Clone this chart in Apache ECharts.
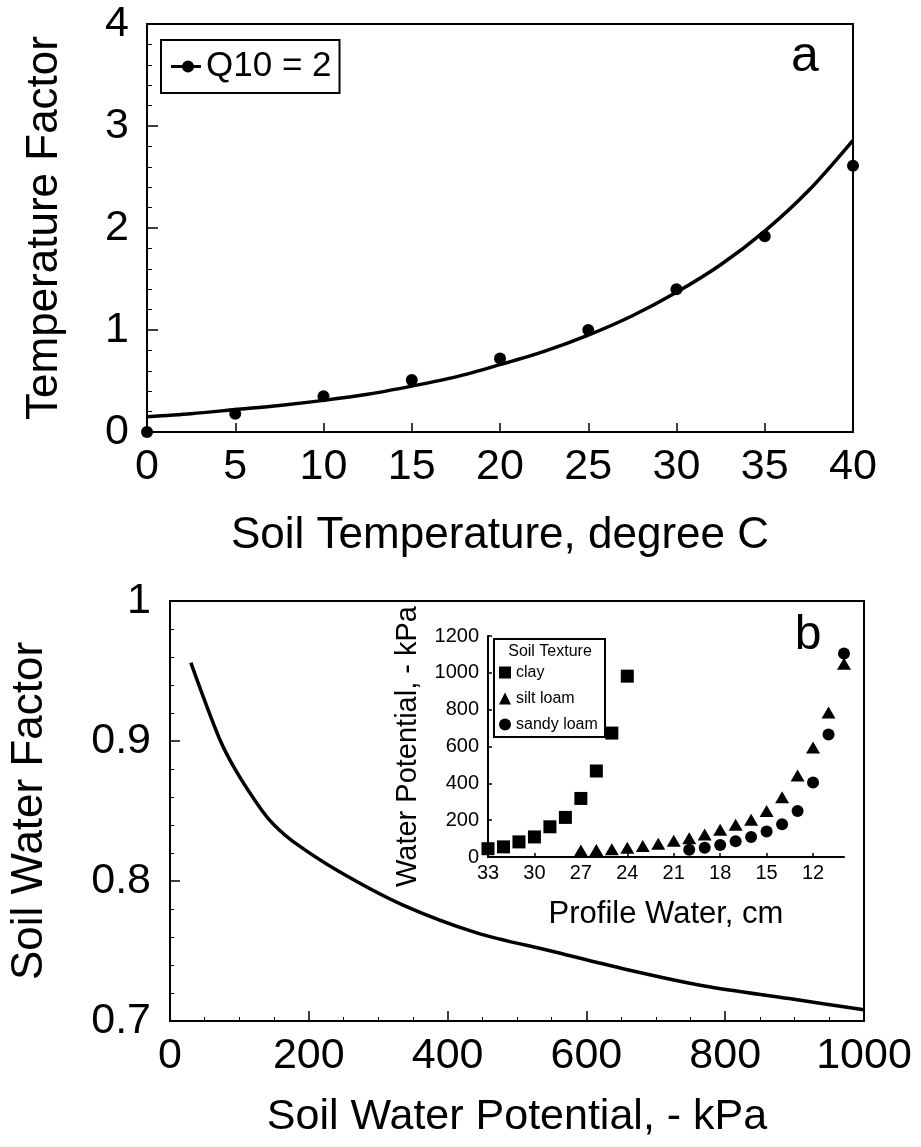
<!DOCTYPE html>
<html>
<head>
<meta charset="utf-8">
<title>Temperature and soil water factors</title>
<script src="https://cdn.jsdelivr.net/npm/echarts@6/dist/echarts.min.js"></script>
<style>
html, body { margin: 0; padding: 0; background: #fff; }
#main { width: 921px; height: 1147px; }
</style>
</head>
<body>
<div id="main"></div>
<script>
// ---- panel a : temperature factor ----
var tempC = [0, 5, 10, 15, 20, 25, 30, 35, 40];
var tempFactorQ10 = [0, 0.18, 0.35, 0.51, 0.72, 1.0, 1.40, 1.92, 2.61];
// fitted curve, read every 2.5 degrees
var fitC = [0, 2.5, 5, 7.5, 10, 12.5, 15, 17.5, 20, 22.5, 25, 27.5, 30, 32.5, 35, 37.5, 40];
var fitFactor = [0.15, 0.18, 0.22, 0.26, 0.31, 0.37, 0.45, 0.54, 0.66, 0.79, 0.95, 1.14, 1.37, 1.64, 1.97, 2.37, 2.86];

// ---- panel b : soil water factor ----
var waterKPa = [30, 71, 96, 133, 150, 178, 243, 335, 442, 549, 656, 770, 892, 1000];
var waterFactor = [0.956, 0.902, 0.878, 0.850, 0.840, 0.828, 0.807, 0.783, 0.763, 0.750, 0.737, 0.725, 0.716, 0.708];

// ---- inset : water potential vs profile water ----
var clayCm = [33, 32, 31, 30, 29, 28, 27, 26, 25, 24];
var clayKPa = [45, 55, 82, 109, 164, 215, 318, 467, 673, 982];
var siltCm = [27, 26, 25, 24, 23, 22, 21, 20, 19, 18, 17, 16, 15, 14, 13, 12, 11, 10];
var siltKPa = [35, 38, 42, 50, 60, 72, 88, 102, 122, 148, 175, 202, 250, 325, 442, 595, 785, 1050];
var sandyCm = [20, 19, 18, 17, 16, 15, 14, 13, 12, 11, 10];
var sandyKPa = [40, 50, 65, 85, 108, 138, 178, 250, 405, 665, 1105];
var insetTicks = [33, 30, 27, 24, 21, 18, 15, 12];

var FONT = "'Liberation Sans', Arial, sans-serif";

function pairs(xs, ys) {
    return xs.map(function (x, i) { return [x, ys[i]]; });
}

// plain numbers, no thousands separator
function plain(v) { return String(v); }

// common axis look: black lines, ticks inside, no grid lines
function axis(o) {
    var a = {
        type: 'value',
        splitLine: { show: false },
        axisLine: { show: true, onZero: false, lineStyle: { color: '#000', width: 2 } },
        axisTick: { show: true, inside: true, length: 10, lineStyle: { color: '#000', width: 1.5 } },
        axisLabel: { color: '#000', fontFamily: FONT, fontSize: 43, lineHeight: 43, formatter: plain },
        nameLocation: 'middle',
        nameTextStyle: { color: '#000', fontFamily: FONT, fontSize: 44, lineHeight: 44 }
    };
    for (var k in o) {
        if (typeof o[k] === 'object' && a[k] && !Array.isArray(o[k])) {
            for (var j in o[k]) a[k][j] = o[k][j];
        } else {
            a[k] = o[k];
        }
    }
    return a;
}

var chart = echarts.init(document.getElementById('main'), null, { renderer: 'canvas' });

var option = {
    backgroundColor: '#fff',
    animation: false,
    grid: [
        { left: 147, top: 24, width: 706, height: 408, show: true, borderColor: '#000', borderWidth: 2 },
        { left: 167, top: 601, width: 697, height: 420, show: true, borderColor: '#000', borderWidth: 2 },
        { left: 488, top: 636, width: 356, height: 221, show: false }
    ],
    xAxis: [
        axis({
            gridIndex: 0, min: 0, max: 40, interval: 5,
            axisTick: { length: 9 },
            axisLabel: { margin: 14 },
            name: 'Soil Temperature, degree C', nameGap: 82
        }),
        axis({
            gridIndex: 1, min: 0, max: 1000, interval: 200,
            minorTick: { show: true, splitNumber: 4, length: 4, lineStyle: { color: '#000', width: 1 } },
            axisLabel: { margin: 14 },
            name: 'Soil Water Potential, - kPa', nameGap: 75,
            nameTextStyle: { fontSize: 43, lineHeight: 43 }
        }),
        axis({
            gridIndex: 2, min: 10, max: 33, inverse: true,
            axisTick: { length: 4, customValues: insetTicks },
            axisLabel: { fontSize: 20, lineHeight: 20, margin: 6, customValues: insetTicks },
            name: 'Profile Water, cm', nameGap: 42,
            nameTextStyle: { fontSize: 31, lineHeight: 31 }
        })
    ],
    yAxis: [
        axis({
            gridIndex: 0, min: 0, max: 4, interval: 1,
            axisTick: { length: 11 },
            minorTick: { show: true, splitNumber: 5, length: 5, lineStyle: { color: '#000', width: 1 } },
            axisLabel: { margin: 18 },
            name: 'Temperature Factor', nameGap: 80
        }),
        axis({
            gridIndex: 1, min: 0.7, max: 1, interval: 0.1,
            minorTick: { show: true, splitNumber: 5, length: 4, lineStyle: { color: '#000', width: 1 } },
            axisLabel: {
                margin: 19,
                formatter: function (v) { return Math.abs(v - 1) < 1e-6 ? '1' : v.toFixed(1); }
            },
            name: 'Soil Water Factor', nameGap: 118
        }),
        axis({
            gridIndex: 2, min: 0, max: 1200, interval: 200,
            axisTick: { length: 4 },
            axisLabel: { fontSize: 20, lineHeight: 20, margin: 9 },
            name: 'Water Potential, - kPa', nameGap: 66,
            nameTextStyle: { fontSize: 29, lineHeight: 29 }
        })
    ],
    legend: [
        {
            left: 161, top: 40,
            padding: [9, 8, 9, 10],
            borderColor: '#000', borderWidth: 2,
            backgroundColor: '#fff',
            selectedMode: false,
            itemWidth: 30, itemHeight: 12,
            textStyle: { color: '#000', fontFamily: FONT, fontSize: 35, lineHeight: 35 },
            data: [{ name: 'Q10 = 2', icon: 'path://M0,4.5L30,4.5L30,7.5L0,7.5Z M17,0A6,6,0,1,1,17,12A6,6,0,1,1,17,0Z' }]
        },
        {
            left: 499, top: 663,
            orient: 'vertical',
            padding: 0,
            selectedMode: false,
            itemWidth: 12, itemHeight: 12, itemGap: 7,
            textStyle: { color: '#000', fontFamily: FONT, fontSize: 16, lineHeight: 19 },
            data: [
                { name: 'clay', icon: 'rect' },
                { name: 'silt loam', icon: 'triangle' },
                { name: 'sandy loam', icon: 'circle' }
            ],
            z: 6
        }
    ],
    graphic: [
        { type: 'rect', z: 3, shape: { x: 494, y: 639, width: 111, height: 98 },
          style: { fill: '#fff', stroke: '#000', lineWidth: 2 } },
        { type: 'text', z: 6, x: 550, y: 652,
          style: { text: 'Soil Texture', fontFamily: FONT, fontSize: 16, fill: '#000', align: 'center', verticalAlign: 'middle' } },
        { type: 'text', z: 6, x: 805, y: 57,
          style: { text: 'a', fontFamily: FONT, fontSize: 50, fill: '#000', align: 'center', verticalAlign: 'middle' } },
        { type: 'text', z: 6, x: 808, y: 636,
          style: { text: 'b', fontFamily: FONT, fontSize: 48, fill: '#000', align: 'center', verticalAlign: 'middle' } }
    ],
    series: [
        {
            name: 'fit', type: 'line', xAxisIndex: 0, yAxisIndex: 0,
            data: pairs(fitC, fitFactor), smooth: 0.3, showSymbol: false,
            lineStyle: { color: '#000', width: 3.5 }, z: 2
        },
        {
            name: 'Q10 = 2', type: 'scatter', xAxisIndex: 0, yAxisIndex: 0,
            data: pairs(tempC, tempFactorQ10), symbol: 'circle', symbolSize: 12,
            itemStyle: { color: '#000', opacity: 1 }, clip: false, z: 3
        },
        {
            name: 'water', type: 'line', xAxisIndex: 1, yAxisIndex: 1,
            data: pairs(waterKPa, waterFactor), smooth: 0.3, showSymbol: false,
            lineStyle: { color: '#000', width: 3.5 }, z: 2
        },
        {
            name: 'clay', type: 'scatter', xAxisIndex: 2, yAxisIndex: 2,
            data: pairs(clayCm, clayKPa), symbol: 'rect', symbolSize: 13,
            itemStyle: { color: '#000', opacity: 1 }, clip: false, z: 2
        },
        {
            name: 'silt loam', type: 'scatter', xAxisIndex: 2, yAxisIndex: 2,
            data: pairs(siltCm, siltKPa), symbol: 'triangle', symbolSize: [14, 12],
            itemStyle: { color: '#000', opacity: 1 }, clip: false, z: 2
        },
        {
            name: 'sandy loam', type: 'scatter', xAxisIndex: 2, yAxisIndex: 2,
            data: pairs(sandyCm, sandyKPa), symbol: 'circle', symbolSize: 12,
            itemStyle: { color: '#000', opacity: 1 }, clip: false, z: 2
        }
    ]
};

chart.setOption(option);
</script>
</body>
</html>
